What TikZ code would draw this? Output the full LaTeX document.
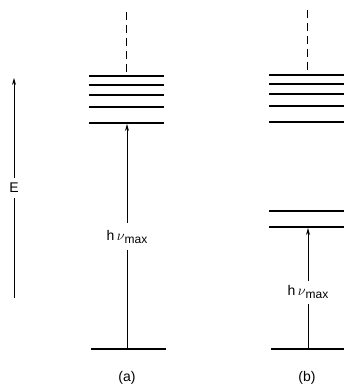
\documentclass[tikz,border=0pt]{standalone}
\usepackage{fontspec}
\setmainfont{Liberation Sans}
\usetikzlibrary{arrows.meta}

\newcommand{\hnumax}{h\,$\nu$\raisebox{-3pt}{\fontsize{12}{14}\selectfont max}}

\begin{document}
\begin{tikzpicture}[x=1pt,y=-1pt,>={Stealth[length=7pt,width=4pt]},font=\fontsize{14}{16}\selectfont,
		level/.style={line width=1.3pt},
		up/.style={->,line width=0.8pt},
		gap/.style={fill=white,inner xsep=1pt,inner ysep=7pt}]
				\useasboundingbox (0,0) rectangle (344,385);
				% energy axis
				\coordinate (e0) at (14,298);
				\coordinate (e1) at (14,78);
				\draw[up] (e0) -- node[gap,inner ysep=5pt] {E} (e1);
				% (a)
				\foreach \y in {76,85,95,107,123}
					\draw[level] (89,\y) -- (164,\y);
				\draw[level] (91,349) -- (166,349);
				\coordinate (a0) at (127,349);
				\coordinate (a1) at (127,124);
				\coordinate (atop) at (126,12);
				\draw[dashed,line width=0.8pt,dash pattern=on 8pt off 5pt] (atop) -- (126,75);
				\draw[up] (a0) -- node[gap,inner ysep=7pt] {\hnumax} (a1);
				\node (la) at (127,378) {(a)};
				% (b)
				\foreach \y in {75,84,94,106,122,211,227}
					\draw[level] (269,\y) -- (344,\y);
				\draw[level] (271,349) -- (344,349);
				\coordinate (b0) at (308,349);
				\coordinate (b1) at (308,228);
				\coordinate (btop) at (307,10);
				\draw[dashed,line width=0.8pt,dash pattern=on 8pt off 5pt] (btop) -- (307,74);
				\draw[up] (b0) -- node[gap,pos=0.47,inner ysep=5pt] {\hnumax} (b1);
				\node (lb) at (307,378) {(b)};
			\end{tikzpicture}
\end{document}
